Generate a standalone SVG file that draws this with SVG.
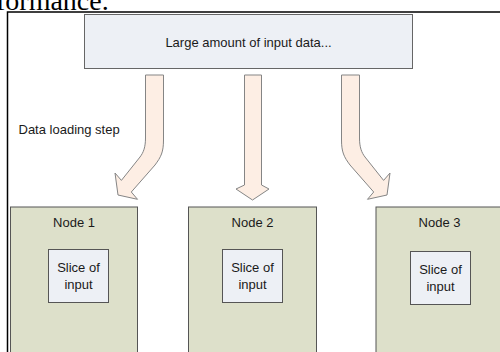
<svg xmlns="http://www.w3.org/2000/svg" width="500" height="352" viewBox="0 0 500 352">
<style>
  text { font-family: "Liberation Sans", Arial, sans-serif; font-size: 13px; fill: #1a1a1a; text-anchor: middle; }
  .cap { font-family: "Liberation Serif", "Times New Roman", serif; font-size: 28px; text-anchor: start; fill: #000; }
  .frame { fill: none; stroke: #000; stroke-width: 1.5; }
  .src { fill: #edf0f5; stroke: #666; stroke-width: 1; }
  .node { fill: #dde0ca; stroke: #555; stroke-width: 1; }
  .slice { fill: #edf0f5; stroke: #555; stroke-width: 1; }
  .arrow { fill: #fdeee4; stroke: #858585; stroke-width: 1; stroke-linejoin: round; }
  .lbl { text-anchor: start; }
</style>
<rect width="500" height="352" fill="#fff"/>
<text class="cap" x="-4" y="10">formance.</text>
<rect class="frame" x="7.5" y="12" width="600" height="400"/>

<g id="input-data">
  <rect class="src" x="84.5" y="14.5" width="328" height="54"/>
  <text x="248.5" y="46.5">Large amount of input data...</text>
</g>

<g id="connectors">
  <path class="arrow" d="M145.5,75 L163.5,75 L163.5,140 C163.5,152 161,157 155,165 L131.3,192 L137.5,199.3 L118,195 L115,173 L121.4,180.4 L140,157 C143.5,152.5 145.5,147 145.5,138 Z"/>
  <path class="arrow" d="M244.5,75 L261.5,75 L261.5,185 L269,189 L252.5,200 L236,189 L244.5,185 Z"/>
  <path class="arrow" transform="matrix(-1 0 0 1 505 0)" d="M145.5,75 L163.5,75 L163.5,140 C163.5,152 161,157 155,165 L131.3,192 L137.5,199.3 L118,195 L115,173 L121.4,180.4 L140,157 C143.5,152.5 145.5,147 145.5,138 Z"/>
  <text class="lbl" x="18.5" y="134">Data loading step</text>
</g>

<g id="node1">
  <rect class="node" x="10.5" y="207" width="127" height="200"/>
  <text x="74" y="226.5">Node 1</text>
  <rect class="slice" x="48.5" y="249.5" width="60" height="53"/>
  <text x="78.5" y="271.5">Slice of</text>
  <text x="78.5" y="288.5">input</text>
</g>

<g id="node2">
  <rect class="node" x="188.5" y="207" width="128" height="200"/>
  <text x="252.5" y="226.5">Node 2</text>
  <rect class="slice" x="222.5" y="249.5" width="60" height="53"/>
  <text x="252.5" y="271.5">Slice of</text>
  <text x="252.5" y="288.5">input</text>
</g>

<g id="node3">
  <rect class="node" x="376" y="207" width="127" height="200"/>
  <text x="439.5" y="226.5">Node 3</text>
  <rect class="slice" x="410.5" y="251.5" width="60" height="53"/>
  <text x="440.5" y="273.5">Slice of</text>
  <text x="440.5" y="290.5">input</text>
</g>
</svg>
